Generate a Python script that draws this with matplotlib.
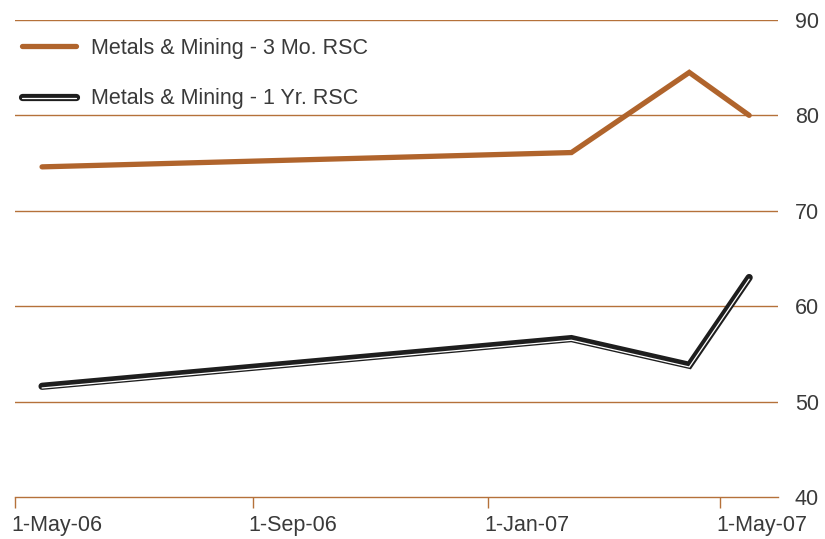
import matplotlib
matplotlib.use("Agg")
import matplotlib.pyplot as plt
import matplotlib.patheffects as pe
import matplotlib.transforms as mtransforms
import pandas as pd

# values
dates = pd.to_datetime(["2006-05-15", "2007-02-13", "2007-04-15", "2007-05-16"])
rsc_3mo = [74.6, 76.1, 84.5, 80.0]
rsc_1yr = [51.6, 56.6, 53.8, 63.0]
tick_dates = pd.to_datetime(["2006-05-01", "2006-09-01", "2007-01-01", "2007-05-01"])
tick_labels = ["1-May-06", "1-Sep-06", "1-Jan-07", "1-May-07"]
y_ticks = [40, 50, 60, 70, 80, 90]

brown = "#B5713A"
orange = "#B0642C"
txt = "#3a3a3a"
fs = 15.5

plt.rcParams["font.family"] = ["Liberation Sans", "DejaVu Sans"]

fig = plt.figure(figsize=(8.25, 5.39), dpi=100)
ax = fig.add_axes([0.0182, 0.078, 0.925, 0.885])

ax.plot(dates, rsc_3mo, color=orange, lw=3.8, solid_capstyle="round",
        solid_joinstyle="miter", label="Metals & Mining - 3 Mo. RSC", zorder=3)

# black line with a thin white stripe along its lower edge
ax.plot(dates, rsc_1yr, color="#1e1e1e", lw=5.2, solid_capstyle="round",
        solid_joinstyle="miter", zorder=3,
        path_effects=[pe.Normal(),
                      pe.Stroke(offset=(0, -1.2), linewidth=0.9, foreground="white")],
        label="Metals & Mining - 1 Yr. RSC")

ax.set_xlim(pd.Timestamp("2006-05-01"), pd.Timestamp("2007-05-31"))
ax.set_ylim(40, 90)

for y in y_ticks[1:]:
    ax.axhline(y, color=brown, lw=1.0, zorder=1)

ax.set_xticks(tick_dates)
ax.set_xticklabels(tick_labels)
ax.set_yticks(y_ticks)
ax.yaxis.tick_right()
ax.tick_params(axis="y", length=0, pad=12, labelsize=fs, labelcolor=txt)
ax.tick_params(axis="x", length=8, width=1, color=brown, direction="out",
               pad=5, labelsize=fs, labelcolor=txt)

# x labels start at their tick, as in the reference
shift = mtransforms.ScaledTranslation(-4 / 100, 0, fig.dpi_scale_trans)
for lab in ax.get_xticklabels():
    lab.set_horizontalalignment("left")
    lab.set_transform(lab.get_transform() + shift)

for s in ["top", "left", "right"]:
    ax.spines[s].set_visible(False)
ax.spines["bottom"].set_color(brown)
ax.spines["bottom"].set_linewidth(1.0)

leg = ax.legend(loc="upper left", bbox_to_anchor=(22 / 825, 1 - 38 / 539),
                bbox_transform=fig.transFigure, frameon=False,
                fontsize=fs, handlelength=2.5, handletextpad=0.7,
                labelspacing=1.36, borderaxespad=0, borderpad=0)
for t in leg.get_texts():
    t.set_color(txt)

fig.savefig("out.png", dpi=100)
